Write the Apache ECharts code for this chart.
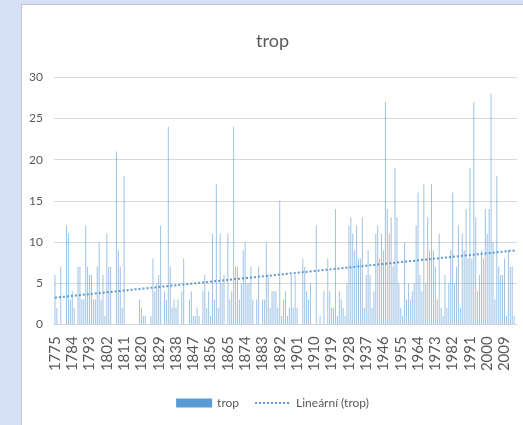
<!DOCTYPE html>
<html>
<head>
<meta charset="utf-8">
<script src="https://cdn.jsdelivr.net/npm/echarts@6/dist/echarts.min.js"></script>
<style>
  html, body { margin: 0; padding: 0; width: 523px; height: 425px; background: #d6e0f6; overflow: hidden; }
  #panel { position: absolute; left: 21px; top: 4px; width: 502px; height: 421px; background: #ffffff; border-top: 1px solid #c8c8c8; border-left: 1px solid #c8c8c8; box-sizing: border-box; }
  #chart { position: absolute; left: 0; top: 0; width: 501px; height: 420px; }
</style>
</head>
<body>
<div id="panel"><div id="chart"></div></div>
<script>
// Years 1775 .. 2015
const startYear = 1775;
const endYear = 2015;
const years = [];
for (let y = startYear; y <= endYear; y++) years.push(String(y));

const tropValues = [
  6, 2, 0, 7, 0, 0, 12, 11, 3, 4,      // 1775-1784
  2, 0, 7, 7, 3, 3, 12, 7, 6, 6,       // 1785-1794
  3, 3, 7, 10, 3, 6, 1, 11, 7, 7,      // 1795-1804
  0, 0, 21, 9, 7, 2, 18, 0, 0, 0,      // 1805-1814
  0, 0, 0, 0, 3, 2, 1, 1, 0, 0,        // 1815-1824
  1, 8, 4, 5, 6, 12, 0, 4, 3, 24,      // 1825-1834
  7, 2, 3, 2, 3, 0, 4, 8, 0, 0,        // 1835-1844
  3, 4, 1, 1, 2, 1, 0, 4, 6, 2,        // 1845-1854
  4, 1, 11, 3, 17, 2, 11, 5, 6, 0,     // 1855-1864
  11, 3, 4, 24, 7, 7, 3, 5, 9, 10,     // 1865-1874
  5, 5, 7, 3, 0, 3, 7, 0, 3, 3,        // 1875-1884
  10, 6, 2, 4, 4, 4, 2, 15, 1, 3,      // 1885-1894
  4, 1, 2, 6, 2, 6, 2, 0, 0, 8,        // 1895-1904
  7, 4, 3, 5, 0, 0, 12, 0, 1, 0,       // 1905-1914
  4, 0, 8, 4, 2, 2, 14, 1, 4, 3,       // 1915-1924
  2, 1, 5, 12, 13, 11, 9, 12, 8, 8,    // 1925-1934
  13, 2, 6, 9, 6, 2, 4, 11, 12, 8,     // 1935-1944
  11, 9, 27, 14, 11, 13, 7, 19, 13, 5, // 1945-1954
  2, 1, 10, 3, 5, 3, 4, 5, 12, 16,     // 1955-1964
  6, 4, 17, 5, 13, 9, 17, 9, 7, 3,     // 1965-1974
  11, 2, 1, 6, 2, 5, 9, 16, 5, 7,      // 1975-1984
  12, 2, 11, 9, 14, 8, 19, 8, 27, 13,  // 1985-1994
  4, 6, 9, 8, 14, 11, 14, 28, 10, 3,   // 1995-2004
  18, 7, 6, 6, 8, 1, 9, 7, 7, 1,       // 2005-2014
  0                                     // 2015
];

const seriesName = 'trop';
const trendName = 'Lineární (trop)';
const yTicks = [0, 5, 10, 15, 20, 25, 30];

// least-squares linear trend of the series (Excel "Lineární" trendline)
function linearTrend(vals) {
  const n = vals.length;
  let sx = 0, sy = 0, sxx = 0, sxy = 0;
  for (let i = 0; i < n; i++) {
    const x = i + 1, y = vals[i];
    sx += x; sy += y; sxx += x * x; sxy += x * y;
  }
  const b = (n * sxy - sx * sy) / (n * sxx - sx * sx);
  const a = (sy - b * sx) / n;
  return vals.map((_, i) => +(a + b * (i + 1)).toFixed(3));
}
const trendValues = linearTrend(tropValues);

const font = 'Lato, "Open Sans", sans-serif';
const chart = echarts.init(document.getElementById('chart'), null, { renderer: 'canvas' });
chart.setOption({
  animation: false,
  backgroundColor: '#ffffff',
  textStyle: { fontFamily: font },
  title: {
    text: 'trop',
    left: 'center',
    top: 22,
    textStyle: { fontFamily: font, fontSize: 18, fontWeight: 'normal', color: '#595959' }
  },
  grid: { left: 32, right: 6, top: 72.3, bottom: 100.7, containLabel: false },
  legend: {
    bottom: 11,
    left: 'center',
    itemGap: 15,
    itemWidth: 36,
    itemHeight: 9,
    textStyle: { fontFamily: font, fontSize: 12, color: '#595959' },
    data: [
      { name: seriesName, icon: 'rect', itemStyle: { color: '#5b9bd5', opacity: 1 } },
      { name: trendName, itemStyle: { color: 'rgba(0,0,0,0)', borderWidth: 0 } }
    ]
  },
  xAxis: {
    type: 'category',
    data: years,
    boundaryGap: true,
    axisLine: { show: true, lineStyle: { color: '#d9d9d9' } },
    axisTick: { show: false },
    axisLabel: {
      interval: 8,
      rotate: 90,
      margin: 12,
      fontFamily: font,
      fontSize: 15,
      color: '#595959'
    },
    splitLine: { show: false }
  },
  yAxis: {
    type: 'value',
    min: yTicks[0],
    max: yTicks[yTicks.length - 1],
    interval: 5,
    axisLine: { show: false },
    axisTick: { show: false },
    axisLabel: { margin: 11, fontFamily: font, fontSize: 12, color: '#595959' },
    splitLine: { lineStyle: { color: '#d9d9d9', width: 1 } }
  },
  series: [
    {
      name: seriesName,
      type: 'bar',
      data: tropValues,
      barWidth: 1,
      itemStyle: { color: '#5b9bd5', opacity: 0.6 }
    },
    {
      name: trendName,
      type: 'line',
      data: trendValues,
      symbol: 'none',
      smooth: false,
      itemStyle: { color: '#5b9bd5' },
      lineStyle: { color: '#5b9bd5', width: 2, type: [2, 2] },
      z: 3
    }
  ]
});
</script>
</body>
</html>
